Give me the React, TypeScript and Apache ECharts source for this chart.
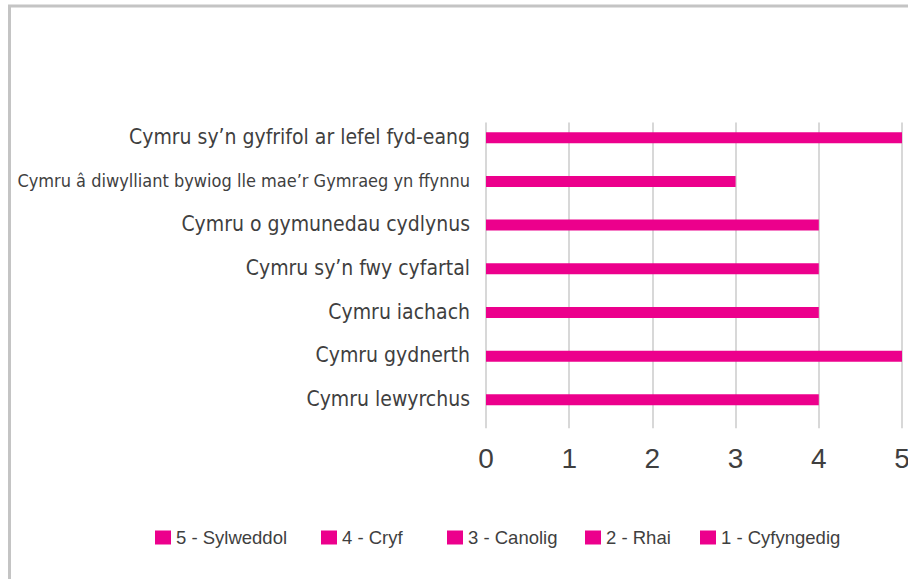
import React, { useEffect, useRef } from "react";
import * as echarts from "echarts";

const categories = [
  "Cymru sy’n gyfrifol ar lefel fyd-eang",
  "Cymru â diwylliant bywiog lle mae’r Gymraeg yn ffynnu",
  "Cymru o gymunedau cydlynus",
  "Cymru sy’n fwy cyfartal",
  "Cymru iachach",
  "Cymru gydnerth",
  "Cymru lewyrchus",
];
const values = [5, 3, 4, 4, 4, 5, 4];
const legendNames = ["5 - Sylweddol", "4 - Cryf", "3 - Canolig", "2 - Rhai", "1 - Cyfyngedig"];
const legendLefts = [155, 321, 447, 585, 700];

const MAGENTA = "#EC008C";
const TEXT = "#3f3f3f";
const CAT_FONT = "'DejaVu Sans Condensed', 'DejaVu Sans', sans-serif";

export default function App() {
  const ref = useRef<HTMLDivElement>(null);
  useEffect(() => {
    if (!ref.current) return;
    const chart = echarts.init(ref.current, null, { renderer: "svg" });
    chart.setOption({
      animation: false,
      backgroundColor: "#ffffff",
      grid: {
        left: 486,
        right: 6,
        top: 122.5,
        bottom: 150.7,
        containLabel: false,
        outerBoundsMode: "none",
      },
      xAxis: {
        type: "value",
        min: 0,
        max: 5,
        interval: 1,
        axisLine: { show: false },
        axisTick: { show: false },
        splitLine: { show: true, lineStyle: { color: "#cbcbcb", width: 1.5 } },
        axisLabel: {
          margin: 16,
          fontSize: 28,
          fontFamily: "Liberation Sans, Arial, sans-serif",
          color: TEXT,
        },
      },
      yAxis: {
        type: "category",
        inverse: true,
        data: categories,
        axisLine: { show: false },
        axisTick: { show: false },
        splitLine: { show: false },
        axisLabel: {
          margin: 16,
          color: TEXT,
          verticalAlign: "bottom",
          lineHeight: 15,
          formatter: (v: string) => (v.length > 45 ? `{s|${v}}` : `{n|${v}}`),
          rich: {
            n: { fontSize: 21, fontFamily: CAT_FONT, color: TEXT, lineHeight: 15 },
            s: { fontSize: 18, fontFamily: CAT_FONT, color: TEXT, lineHeight: 15 },
          },
        },
      },
      legend: legendNames.map((name, i) => ({
        data: [name],
        left: legendLefts[i],
        top: 528,
        icon: "rect",
        itemWidth: 16,
        itemHeight: 14,
        padding: 0,
        selectedMode: false,
        textStyle: {
          fontSize: 18.5,
          fontFamily: "Liberation Sans, Arial, sans-serif",
          color: TEXT,
        },
      })),
      series: legendNames.map((name, i) => ({
        type: "bar",
        name,
        data: i === 0 ? values : [],
        barWidth: 11,
        barGap: "-70%",
        itemStyle: { color: MAGENTA },
      })),
      graphic: [
        {
          type: "rect",
          shape: { x: 9.5, y: 6, width: 1000, height: 1000 },
          style: { fill: "none", stroke: "#c4c4c4", lineWidth: 3 },
          silent: true,
        },
      ],
    });
    return () => chart.dispose();
  }, []);
  return (
    <div
      ref={ref}
      style={{ position: "fixed", left: 0, top: 0, width: 908, height: 579 }}
    />
  );
}
